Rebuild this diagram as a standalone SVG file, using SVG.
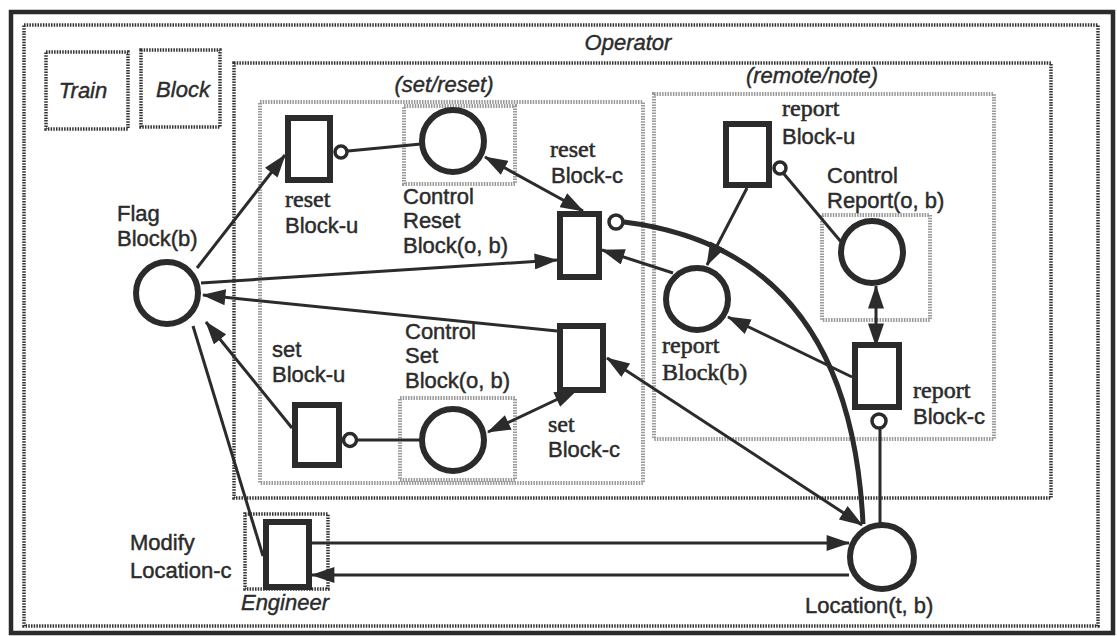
<svg xmlns="http://www.w3.org/2000/svg" width="1117" height="636" viewBox="0 0 1117 636">
<defs>
<marker id="ah" markerUnits="userSpaceOnUse" markerWidth="24" markerHeight="16" refX="21" refY="7.5" orient="auto-start-reverse" viewBox="0 0 22 15">
<path d="M0,0 L22,7.5 L0,15 z" fill="#2b2b2b"/>
</marker>
<style>
.t{font-family:"Liberation Sans",Arial,sans-serif;font-size:22px;fill:#2b2b2b;stroke:#2b2b2b;stroke-width:0.45}
.s{font-family:"Liberation Serif","Times New Roman",serif;font-size:24px;fill:#2b2b2b;stroke:#2b2b2b;stroke-width:0.55}
.i{font-family:"Liberation Sans",Arial,sans-serif;font-size:22px;font-style:italic;fill:#2b2b2b;stroke:#2b2b2b;stroke-width:0.4}
.dk{fill:none;stroke:#333;stroke-width:3.5;stroke-dasharray:1.5 1.2}
.gr{fill:none;stroke:#9a9a9a;stroke-width:4;stroke-dasharray:1.5 1.2}
.pl{fill:#fff;stroke:#2b2b2b;stroke-width:6}
.tr{fill:#fff;stroke:#2b2b2b;stroke-width:6}
.inh{fill:#fff;stroke:#2b2b2b;stroke-width:3.5}
.a{fill:none;stroke:#2b2b2b;stroke-width:3}
.ae{fill:none;stroke:#2b2b2b;stroke-width:3;marker-end:url(#ah)}
.ab{fill:none;stroke:#2b2b2b;stroke-width:3;marker-end:url(#ah);marker-start:url(#ah)}
</style>
</defs>
<rect width="1117" height="636" fill="#fff"/>
<g id="frames">
<rect x="11" y="12" width="1102" height="621" fill="none" stroke="#2b2b2b" stroke-width="4.5"/>
<rect class="dk" x="24" y="25" width="1074" height="601"/>
<rect class="dk" x="234" y="63" width="817" height="435"/>
<rect class="gr" x="260" y="102" width="383" height="381"/>
<rect class="gr" x="654" y="94" width="340" height="345"/>
<rect class="dk" x="46" y="52" width="82" height="77"/>
<rect class="dk" x="141" y="50" width="79" height="77"/>
<rect class="dk" x="245" y="514" width="83" height="75"/>
<rect class="gr" x="404" y="106" width="111" height="78"/>
<rect class="gr" x="400" y="398" width="115" height="82"/>
<rect class="gr" x="822" y="215" width="108" height="105"/>
<text class="i" x="628" y="50" text-anchor="middle" font-size="23">Operator</text>
<text class="i" x="83" y="98" text-anchor="middle">Train</text>
<text class="i" x="183" y="97" text-anchor="middle">Block</text>
<text class="i" x="444" y="92" text-anchor="middle">(set/reset)</text>
<text class="i" x="812" y="83" text-anchor="middle">(remote/note)</text>
<text class="i" x="285" y="610" text-anchor="middle">Engineer</text>
</g>
<g id="connectors">
<path class="ae" d="M197,268 L285,155"/>
<path class="ae" d="M201,283 L557,260"/>
<path class="ae" d="M557,331 L203,295"/>
<path class="ae" d="M292,428 L206,322"/>
<path class="a" d="M193,326 L263,556"/>
<path class="a" d="M348,151 L421,144"/>
<path class="ab" d="M485,157 L583,211"/>
<path fill="none" stroke="#2b2b2b" stroke-width="5" d="M624,222 Q850,250 863,524"/>
<path class="ae" d="M747,188 L707,265"/>
<path class="a" d="M784,174 L842,243"/>
<path class="ae" d="M673,273 L602,250"/>
<path class="ae" d="M852,377 L728,317"/>
<path class="ab" d="M876,286 L876,346"/>
<path class="a" d="M880,429 L880,524"/>
<path class="ab" d="M607,358 L862,525"/>
<path class="ab" d="M488,432 L577,390"/>
<path class="a" d="M357,440 L421,440"/>
<path class="ae" d="M312,543 L849,543"/>
<path class="ae" d="M849,575 L312,575"/>
</g>
<g id="flag-block">
<circle class="pl" cx="167" cy="293" r="31"/>
<text class="t" x="117" y="221">Flag</text>
<text class="t" x="117" y="246">Block(b)</text>
</g>
<g id="reset-block-u">
<rect class="tr" x="288" y="118" width="42" height="62"/>
<circle class="inh" cx="341" cy="152" r="6"/>
<text class="s" x="285" y="207">reset</text>
<text class="t" x="285" y="233">Block-u</text>
</g>
<g id="control-reset-block">
<circle class="pl" cx="453" cy="141" r="31"/>
<text class="t" x="403" y="204">Control</text>
<text class="t" x="403" y="228">Reset</text>
<text class="t" x="403" y="253">Block(o, b)</text>
</g>
<g id="reset-block-c">
<rect class="tr" x="560" y="214" width="39" height="63"/>
<circle class="inh" cx="616" cy="222" r="7"/>
<text class="s" x="550" y="157">reset</text>
<text class="t" x="551" y="183">Block-c</text>
</g>
<g id="set-block-u">
<rect class="tr" x="295" y="405" width="44" height="60"/>
<circle class="inh" cx="350" cy="440" r="6.5"/>
<text class="t" x="272" y="357">set</text>
<text class="t" x="272" y="382">Block-u</text>
</g>
<g id="control-set-block">
<circle class="pl" cx="453" cy="440" r="31"/>
<text class="t" x="405" y="339">Control</text>
<text class="t" x="405" y="363">Set</text>
<text class="t" x="405" y="388">Block(o, b)</text>
</g>
<g id="set-block-c">
<rect class="tr" x="560" y="326" width="43" height="64"/>
<text class="s" x="548" y="432">set</text>
<text class="t" x="548" y="457">Block-c</text>
</g>
<g id="report-block-u">
<rect class="tr" x="726" y="124" width="43" height="61"/>
<circle class="inh" cx="780" cy="168" r="6"/>
<text class="s" x="782" y="116">report</text>
<text class="t" x="782" y="144">Block-u</text>
</g>
<g id="control-report">
<circle class="pl" cx="872" cy="252" r="31"/>
<text class="t" x="827" y="183">Control</text>
<text class="t" x="827" y="208">Report(o, b)</text>
</g>
<g id="report-block-b">
<circle class="pl" cx="697" cy="299" r="31"/>
<text class="s" x="662" y="353">report</text>
<text class="s" x="662" y="380">Block(b)</text>
</g>
<g id="report-block-c">
<rect class="tr" x="855" y="345" width="44" height="62"/>
<circle class="inh" cx="879" cy="421" r="7"/>
<text class="s" x="913" y="398">report</text>
<text class="t" x="913" y="424">Block-c</text>
</g>
<g id="location">
<circle class="pl" cx="882" cy="557" r="32"/>
<text class="t" x="805" y="613">Location(t, b)</text>
</g>
<g id="modify-location-c">
<rect class="tr" x="266" y="522" width="43" height="65"/>
<text class="t" x="130" y="550">Modify</text>
<text class="t" x="130" y="578">Location-c</text>
</g>
</svg>
